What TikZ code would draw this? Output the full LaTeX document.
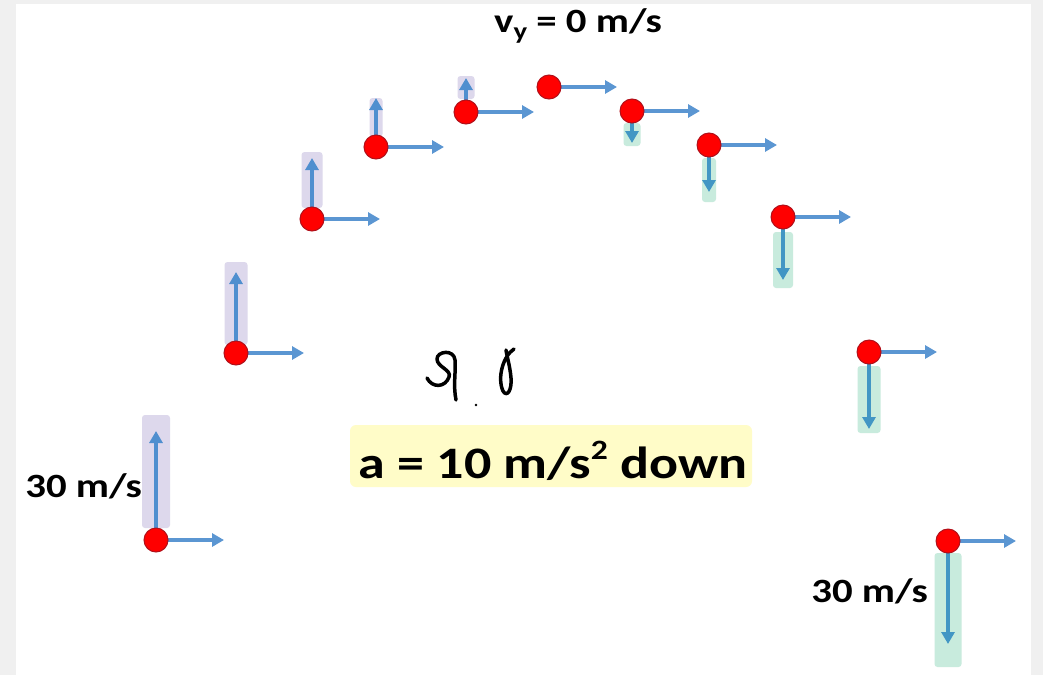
\documentclass[tikz,border=0pt]{standalone}
\usepackage{fontspec}
\setmainfont{Carlito}
\newfontfamily\lblfont{Carlito}[FakeStretch=1.2]
\usetikzlibrary{arrows.meta}

\definecolor{vxblue}{HTML}{5B96D2}
\definecolor{vyblue}{HTML}{4F8FCF}
\definecolor{vdown}{HTML}{4296C4}
\definecolor{upfill}{HTML}{DDD8EC}
\definecolor{downfill}{HTML}{C8EBDD}
\definecolor{accfill}{HTML}{FFFCC8}
\definecolor{ballrim}{HTML}{B0101A}
\definecolor{pagegray}{HTML}{F0F0F0}

\begin{document}
\begin{tikzpicture}[x=1pt, y=-1pt, >={Triangle[length=12pt, width=13pt]},
    ball/.style={circle, fill=red, draw=ballrim, line width=1pt,
                 minimum size=24pt, inner sep=0pt},
    vx/.style={->, line width=4pt, vxblue},
    vup/.style={->, line width=4pt, vyblue},
    vdn/.style={->, line width=4pt, vdown},
    upband/.style={fill=upfill, rounded corners=3pt},
    dnband/.style={fill=downfill, rounded corners=3pt},
    lbl/.style={inner sep=0pt, font=\lblfont\bfseries\fontsize{34}{40}\selectfont},
    pen/.style={line width=3.5pt, line cap=round, line join=round}]

  % page
  \fill[pagegray] (0,0) rectangle (1043,675);
  \fill[white] (16,4) rectangle (1031,675);

  % going up: index/x/y/tip/band top/band bottom/half width
  \foreach \i/\x/\y/\t/\bt/\bb/\w in {1/156/540/431/415/528/14,
      2/236/353/272/262/345/11.5, 3/312/219/158/152/208/10.5,
      4/376/147/98/98/137/6.5, 5/466/112/78/76/99/8.5} {
    \fill[upband] (\x-\w,\bt) rectangle (\x+\w,\bb);
    \coordinate (p\i) at (\x,\y);
    \coordinate (v\i) at (\x,\t);
    \coordinate (h\i) at (\x+68,\y);
    \draw[vup] (p\i) -- (v\i);
    \draw[vx] (p\i) -- (h\i);
    \node[ball] (b\i) at (p\i) {};
  }

  % top of the path
  \coordinate (p6) at (549,87);
  \coordinate (h6) at (617,87);
  \draw[vx] (p6) -- (h6);
  \node[ball] (b6) at (p6) {};

  % coming down
  \foreach \i/\x/\y/\t/\bt/\bb/\w in {7/632/111/143/123/146/8.5,
      8/709/145/192/158/202/7, 9/783/217/280/232/288/10,
      10/869/352/429/366/433/11.5, 11/948/541/644/553/667/13.5} {
    \fill[dnband] (\x-\w,\bt) rectangle (\x+\w,\bb);
    \coordinate (p\i) at (\x,\y);
    \coordinate (v\i) at (\x,\t);
    \coordinate (h\i) at (\x+68,\y);
    \draw[vdn] (p\i) -- (v\i);
    \draw[vx] (p\i) -- (h\i);
    \node[ball] (b\i) at (p\i) {};
  }

  % labels
  \node[lbl, anchor=base] (vtop) at (578,32)
    {v\raisebox{-0.22em}{\fontsize{24}{24}\selectfont y} = 0 m/s};
  \node[lbl, anchor=base east] (vstart) at (142,497) {30 m/s};
  \node[lbl, anchor=base east] (vend) at (928,602) {30 m/s};

  % acceleration
  \fill[accfill, rounded corners=6pt] (350,425) rectangle (752,487);
  \node[lbl, anchor=base, font=\lblfont\bfseries\fontsize{45}{50}\selectfont]
    (acc) at (553,478) {a = 10 m/s\raisebox{0.42em}{\fontsize{28}{28}\selectfont 2} down};

  % scribble
  \draw[pen] (427,378) .. controls (432,388) and (445,388) .. (449,377)
    .. controls (452,370) and (437,367) .. (437,359)
    .. controls (437,351) and (454,349) .. (455,360)
    .. controls (456,372) and (453,385) .. (456,400);
  \draw[pen] (514,349) .. controls (503,356) and (497,378) .. (503,391)
    .. controls (507,398) and (512,390) .. (511,378)
    .. controls (510,366) and (507,357) .. (506,350);
  \fill (476,405) circle (1.3);
\end{tikzpicture}
\end{document}
